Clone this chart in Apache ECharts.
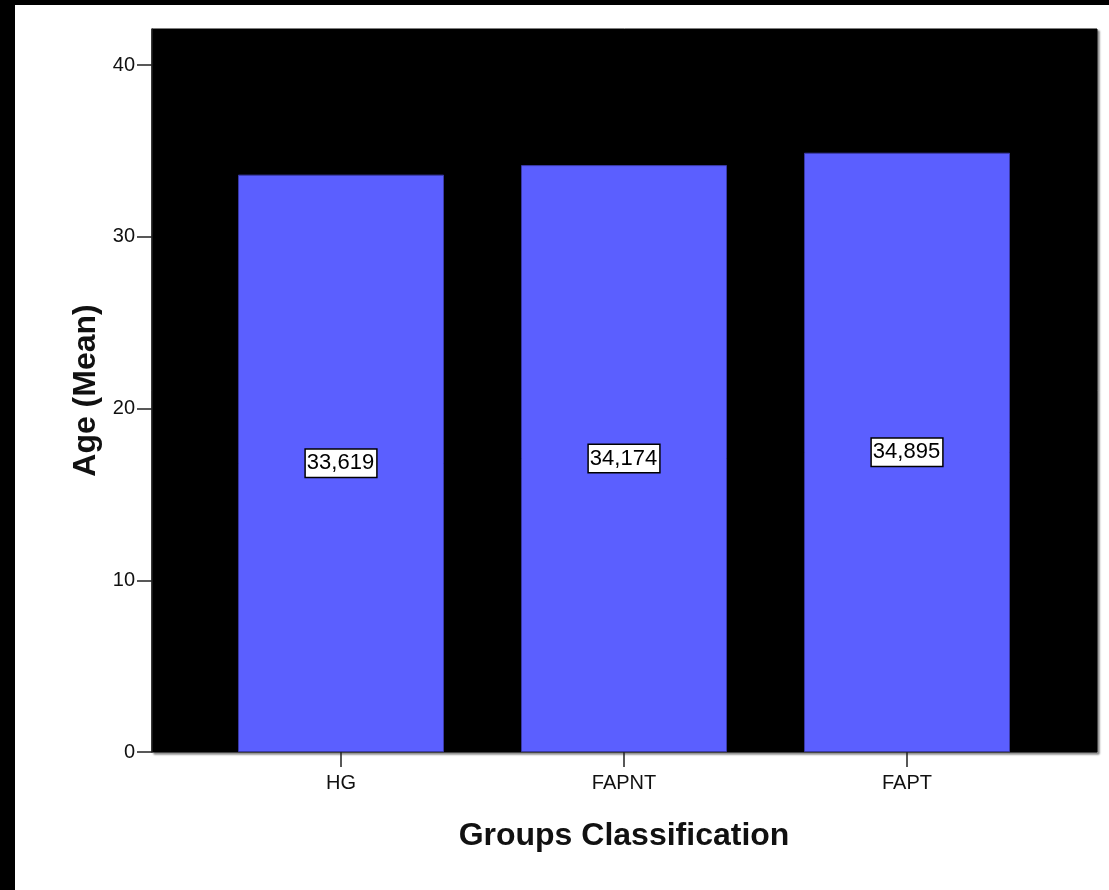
<!DOCTYPE html>
<html>
<head>
<meta charset="utf-8">
<script src="https://cdn.jsdelivr.net/npm/echarts@6/dist/echarts.min.js"></script>
<style>
html,body{margin:0;padding:0;background:#fff;}
#chart{width:1109px;height:890px;}
</style>
</head>
<body>
<div id="chart"></div>
<script>
var categories = ['HG', 'FAPNT', 'FAPT'];
var meanAge = [33.619, 34.174, 34.895];
var yTicks = [0, 10, 20, 30, 40];
var yTitle = 'Age (Mean)';
var xTitle = 'Groups Classification';

var chart = echarts.init(document.getElementById('chart'), null, {renderer: 'canvas'});
var font = '"Liberation Sans", Arial, sans-serif';
var option = {
  backgroundColor: '#ffffff',
  animation: false,
  graphic: [
    {type: 'rect', left: 0, top: 0, shape: {width: 1109, height: 5}, style: {fill: '#000'}},
    {type: 'rect', left: 0, top: 0, shape: {width: 15, height: 890}, style: {fill: '#000'}}
  ],
  grid: [
    {left: 152, right: 12, top: 29, bottom: 138, show: true, backgroundColor: '#000', borderColor: '#000', borderWidth: 1,
     shadowColor: 'rgba(0,0,0,0.45)', shadowBlur: 2, shadowOffsetX: 2, shadowOffsetY: 2},
    {left: 199.5, right: 60.5, top: 29, bottom: 138}
  ],
  xAxis: [
    {gridIndex: 0, type: 'value', min: 0, max: 1, show: false},
    {gridIndex: 1, type: 'category', data: categories, boundaryGap: true,
     axisLine: {show: false},
     axisTick: {show: true, alignWithLabel: true, length: 15, lineStyle: {color: '#222', width: 1.5}},
     axisLabel: {color: '#111', fontSize: 20, fontFamily: font, margin: 21},
     name: xTitle, nameLocation: 'middle', nameGap: 68,
     nameTextStyle: {color: '#111', fontSize: 32, fontWeight: 'bold', fontFamily: font}}
  ],
  yAxis: [
    {gridIndex: 0, type: 'value', min: 0, max: 42.1, interval: 10,
     splitLine: {show: false},
     axisLine: {show: true, lineStyle: {color: '#222', width: 1.5}},
     axisTick: {show: true, length: 15, customValues: yTicks, lineStyle: {color: '#222', width: 1.5}},
     axisLabel: {color: '#111', fontSize: 20, fontFamily: font, margin: 17, customValues: yTicks},
     name: yTitle, nameLocation: 'middle', nameGap: 50, nameRotate: 90,
     nameTextStyle: {color: '#111', fontSize: 32, fontWeight: 'bold', fontFamily: font}},
    {gridIndex: 1, type: 'value', min: 0, max: 42.1, show: false}
  ],
  series: [{
    type: 'bar', xAxisIndex: 1, yAxisIndex: 1,
    data: meanAge, barWidth: '72.8%',
    itemStyle: {color: '#5b5fff', borderColor: '#3a3aa8', borderWidth: 1},
    label: {
      show: true, position: 'inside',
      formatter: function (p) { return p.value.toFixed(3).replace('.', ','); },
      color: '#000', fontSize: 22, fontFamily: font,
      backgroundColor: '#fff', borderColor: '#000', borderWidth: 1.5,
      padding: [3, 2, 2, 1]
    }
  }]
};
chart.setOption(option);
</script>
</body>
</html>
